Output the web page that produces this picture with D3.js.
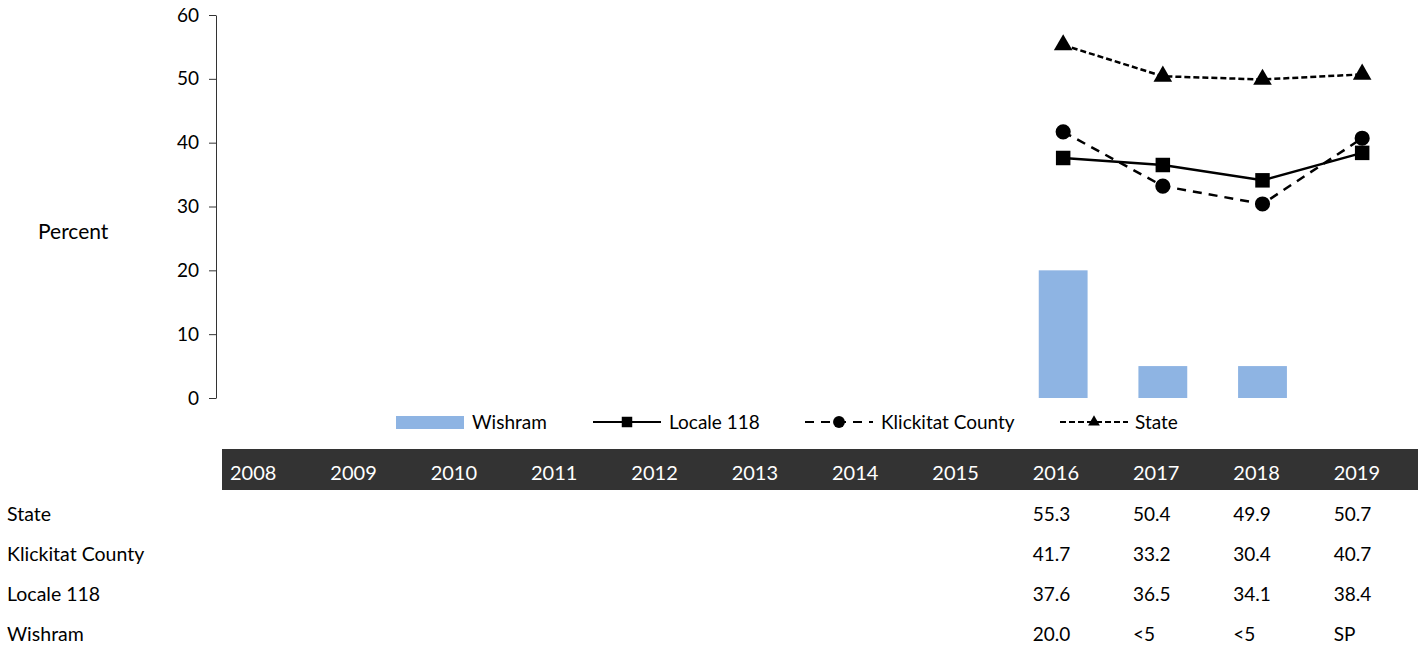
<!DOCTYPE html>
<html>
<head>
<meta charset="utf-8">
<script src="https://cdn.jsdelivr.net/npm/d3@7"></script>
<style>
  body { margin: 0; background: #fff; }
  svg text { font-family: Lato, "Open Sans", sans-serif; fill: #000; }
</style>
</head>
<body>
<div id="chart"></div>
<script>
'use strict';
// values
const years = ['2008', '2009', '2010', '2011', '2012', '2013', '2014', '2015', '2016', '2017', '2018', '2019'];
const stateVals = [null, null, null, null, null, null, null, null, 55.3, 50.4, 49.9, 50.7];
const klickitatVals = [null, null, null, null, null, null, null, null, 41.7, 33.2, 30.4, 40.7];
const localeVals = [null, null, null, null, null, null, null, null, 37.6, 36.5, 34.1, 38.4];
// "<5" is drawn as a bar of 5, "SP" (suppressed) gets no bar
const wishramVals = [null, null, null, null, null, null, null, null, 20.0, 5, 5, null];
const wishramLabels = ['', '', '', '', '', '', '', '', '20.0', '<5', '<5', 'SP'];
const yTicks = [0, 10, 20, 30, 40, 50, 60];

((d3) => {
  const width = 1424;
  const height = 648;

  const svg = d3.select('#chart')
    .append('svg')
    .attr('width', width)
    .attr('height', height);

  const x = d3.scaleBand().domain(years).range([216, 1412]);
  const y = d3.scaleLinear().domain([0, 60]).range([398, 15]);

  //y axis
  const yAxis = svg.append('g')
    .attr('transform', 'translate(216,0)')
    .call(d3.axisLeft(y).tickValues(yTicks).tickSize(7).tickSizeOuter(0).tickPadding(10));
  yAxis.select('.domain').attr('stroke', '#333');
  yAxis.selectAll('.tick line').attr('stroke', '#333');
  yAxis.selectAll('text').style('font-size', '19px').attr('fill', '#000');

  svg.append('text')
    .attr('x', 38)
    .attr('y', 239)
    .style('font-size', '21px')
    .text('Percent');

  //bars
  const barW = x.bandwidth() * 0.49;
  svg.selectAll('.bar')
    .data(years.map((d, i) => ({ year: d, v: wishramVals[i] })).filter(d => d.v != null))
    .enter()
    .append('rect')
    .attr('class', 'bar')
    .attr('x', d => x(d.year) + (x.bandwidth() - barW) / 2)
    .attr('y', d => y(d.v))
    .attr('width', barW)
    .attr('height', d => y(0) - y(d.v))
    .attr('fill', '#8eb4e3');

  //lines
  const series = [
    { name: 'Locale 118', vals: localeVals, dash: null, marker: 'square' },
    { name: 'Klickitat County', vals: klickitatVals, dash: '9,7', marker: 'circle' },
    { name: 'State', vals: stateVals, dash: '6,3', marker: 'triangle' }
  ];
  const line = d3.line()
    .defined(d => d.v != null)
    .x(d => x(d.year) + x.bandwidth() / 2)
    .y(d => y(d.v));
  const symbolFor = {
    square: d3.symbol().type(d3.symbolSquare).size(210),
    circle: d3.symbol().type(d3.symbolCircle).size(180),
    triangle: d3.symbol().type(d3.symbolTriangle).size(150)
  };

  series.forEach((s) => {
    const pts = years.map((d, i) => ({ year: d, v: s.vals[i] }));
    svg.append('path')
      .datum(pts)
      .attr('d', line)
      .attr('fill', 'none')
      .attr('stroke', '#000')
      .attr('stroke-width', 2.5)
      .attr('stroke-dasharray', s.dash);
    svg.selectAll('.m-' + s.marker)
      .data(pts.filter(d => d.v != null))
      .enter()
      .append('path')
      .attr('class', 'm-' + s.marker)
      .attr('transform', d => 'translate(' + (x(d.year) + x.bandwidth() / 2) + ',' + y(d.v) + ')')
      .attr('d', symbolFor[s.marker]())
      .attr('fill', '#000');
  });

  //legend
  const legendY = 422;
  const lg = svg.append('g').attr('class', 'legend');
  lg.append('rect').attr('x', 396).attr('y', 416).attr('width', 68).attr('height', 13).attr('fill', '#8eb4e3');
  lg.append('text').attr('x', 472).attr('y', legendY + 7).style('font-size', '19px').text('Wishram');

  const legendItems = [
    { s: series[0], x0: 593, tx: 669 },
    { s: series[1], x0: 805, tx: 881 },
    { s: series[2], x0: 1060, tx: 1135 }
  ];
  legendItems.forEach((d) => {
    lg.append('line')
      .attr('x1', d.x0).attr('x2', d.x0 + 68)
      .attr('y1', legendY).attr('y2', legendY)
      .attr('stroke', '#000').attr('stroke-width', 2.2)
      .attr('stroke-dasharray', d.s.dash);
    const small = d3.symbol().type(
      d.s.marker === 'square' ? d3.symbolSquare : d.s.marker === 'circle' ? d3.symbolCircle : d3.symbolTriangle
    ).size(d.s.marker === 'triangle' ? 60 : 110);
    lg.append('path')
      .attr('transform', 'translate(' + (d.x0 + 34) + ',' + legendY + ')')
      .attr('d', small())
      .attr('fill', '#000');
    lg.append('text').attr('x', d.tx).attr('y', legendY + 7).style('font-size', '19px').text(d.s.name);
  });

  //data table
  const tx = d3.scaleBand().domain(years).range([222, 1426]);
  svg.append('rect')
    .attr('x', 222).attr('y', 449)
    .attr('width', 1418 - 222).attr('height', 41)
    .attr('fill', '#333333');
  svg.selectAll('.hdr')
    .data(years)
    .enter()
    .append('text')
    .attr('class', 'hdr')
    .attr('x', d => tx(d) + 8)
    .attr('y', 480)
    .style('font-size', '20px')
    .style('fill', '#fff')
    .text(d => d);

  const fmt = v => (v == null ? '' : v.toFixed(1));
  const rows = [
    { label: 'State', cells: stateVals.map(fmt) },
    { label: 'Klickitat County', cells: klickitatVals.map(fmt) },
    { label: 'Locale 118', cells: localeVals.map(fmt) },
    { label: 'Wishram', cells: wishramLabels }
  ];
  rows.forEach((r, ri) => {
    const ry = 521 + ri * 40;
    svg.append('text').attr('x', 7).attr('y', ry).style('font-size', '19.5px').text(r.label);
    svg.selectAll('.cell-' + ri)
      .data(years.map((d, i) => ({ year: d, t: r.cells[i] })))
      .enter()
      .append('text')
      .attr('class', 'cell-' + ri)
      .attr('x', d => tx(d.year) + 8)
      .attr('y', ry)
      .style('font-size', '19px')
      .text(d => d.t);
  });
})(window.d3);
</script>
</body>
</html>
